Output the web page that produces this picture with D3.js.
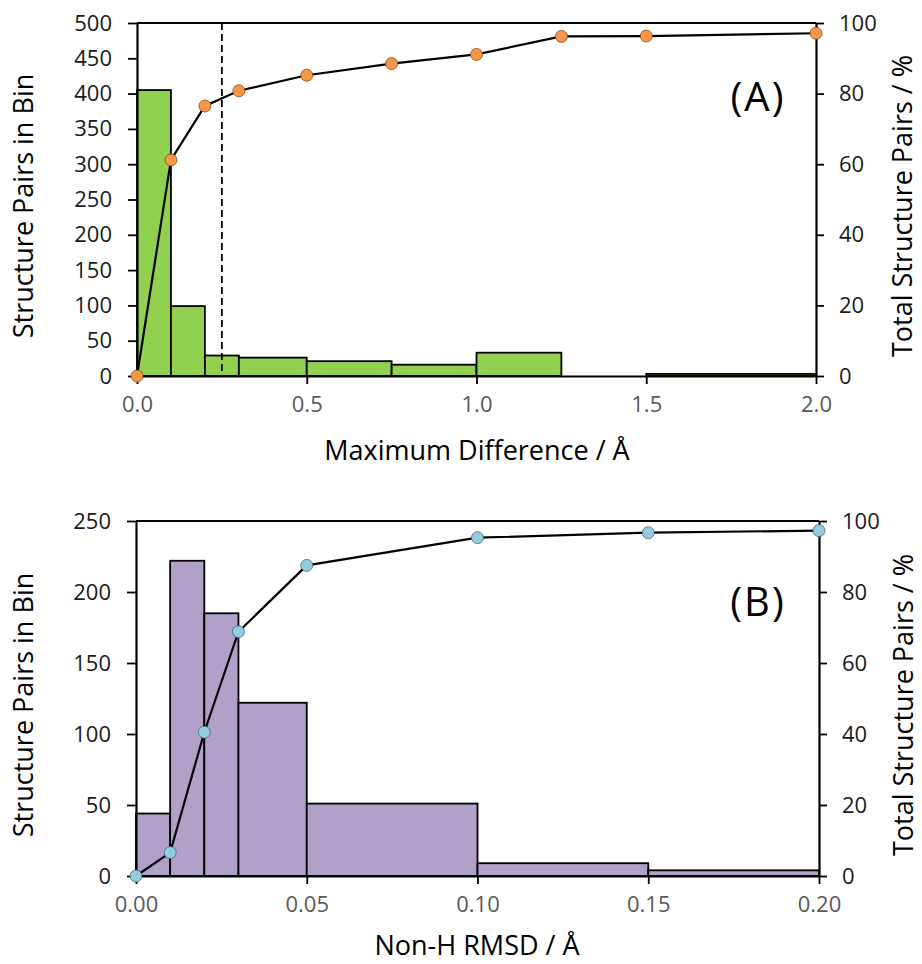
<!DOCTYPE html>
<html>
<head>
<meta charset="utf-8">
<script src="https://cdn.jsdelivr.net/npm/d3@7"></script>
<style>
  html, body { margin: 0; padding: 0; background: #fff; }
  svg text { font-family: "Open Sans", "Noto Sans", sans-serif; }
  .axis .domain { stroke: #000; stroke-width: 2.2; }
  .axis .tick line { stroke: #000; stroke-width: 1.8; }
  .axis.y text { font-size: 22px; fill: #1a1a1a; }
  .axis.x text { font-size: 22px; fill: #595959; }
  .title { font-size: 27px; fill: #000; }
</style>
</head>
<body>
<div id="chart"></div>
<script>
// Panel A: maximum difference histogram
const edgesA = [0, 0.1, 0.2, 0.3, 0.5, 0.75, 1.0, 1.25, 1.5, 2.0];
const countsA = [405, 99, 29, 26, 21, 16, 33, 0, 3];
const cumA = [0, 61.2, 76.5, 80.8, 85.2, 88.5, 91.1, 96.2, 96.3, 97.1];
const xTicksA = [0, 0.5, 1.0, 1.5, 2.0];
const yTicksA = [0, 50, 100, 150, 200, 250, 300, 350, 400, 450, 500];
const cutoffA = 0.25;

// Panel B: non-H RMSD histogram
const edgesB = [0, 0.01, 0.02, 0.03, 0.05, 0.10, 0.15, 0.20];
const countsB = [44, 222, 185, 122, 51, 9, 4];
const cumB = [0, 6.6, 40.5, 68.8, 87.5, 95.3, 96.7, 97.3];
const xTicksB = [0, 0.05, 0.10, 0.15, 0.20];
const yTicksB = [0, 50, 100, 150, 200, 250];

const pctTicks = [0, 20, 40, 60, 80, 100];

const svg = d3.select('#chart').append('svg')
  .attr('width', 922)
  .attr('height', 964);

function drawPanel(p) {
  const x = d3.scaleLinear().domain([0, p.xMax]).range([p.left, p.right]);
  const y = d3.scaleLinear().domain([0, p.yMax]).range([p.bottom, p.top]);
  const y2 = d3.scaleLinear().domain([0, 100]).range([p.bottom, p.top]);
  const g = svg.append('g');

  const bins = p.counts.map((c, i) => ({ x0: p.edges[i], x1: p.edges[i + 1], c: c }))
    .filter(d => d.c > 0);

  g.selectAll('rect.bar').data(bins).enter().append('rect')
    .attr('class', 'bar')
    .attr('x', d => x(d.x0))
    .attr('y', d => y(d.c))
    .attr('width', d => x(d.x1) - x(d.x0))
    .attr('height', d => y(0) - y(d.c))
    .attr('fill', p.barColor)
    .attr('stroke', '#000')
    .attr('stroke-width', 1.8);

  if (p.cutoff != null) {
    g.append('line')
      .attr('x1', x(p.cutoff)).attr('x2', x(p.cutoff))
      .attr('y1', p.top).attr('y2', p.bottom - 4)
      .attr('stroke', '#000')
      .attr('stroke-width', 1.8)
      .attr('stroke-dasharray', '7,4');
  }

  // frame top
  g.append('line')
    .attr('x1', p.left).attr('x2', p.right)
    .attr('y1', p.top).attr('y2', p.top)
    .attr('stroke', '#000').attr('stroke-width', 2.2);

  g.append('g')
    .attr('class', 'axis y')
    .attr('transform', `translate(${p.left},0)`)
    .call(d3.axisLeft(y).tickValues(p.yTicks).tickSize(9).tickSizeOuter(0).tickPadding(16));

  g.append('g')
    .attr('class', 'axis y')
    .attr('transform', `translate(${p.right},0)`)
    .call(d3.axisRight(y2).tickValues(pctTicks).tickSize(8).tickSizeOuter(0).tickPadding(15));

  g.append('g')
    .attr('class', 'axis x')
    .attr('transform', `translate(0,${p.bottom})`)
    .call(d3.axisBottom(x).tickValues(p.xTicks).tickSize(8).tickSizeOuter(0).tickPadding(12)
      .tickFormat(d3.format(p.fmt)));

  const pts = p.edges.map((e, i) => ({ x: e, v: p.cum[i] }));

  g.append('path')
    .datum(pts)
    .attr('fill', 'none')
    .attr('stroke', '#000')
    .attr('stroke-width', 2.2)
    .attr('d', d3.line().x(d => x(d.x)).y(d => y2(d.v)));

  g.selectAll('circle.pt').data(pts).enter().append('circle')
    .attr('class', 'pt')
    .attr('cx', d => x(d.x))
    .attr('cy', d => y2(d.v))
    .attr('r', 6)
    .attr('fill', p.dotColor)
    .attr('stroke', p.dotStroke)
    .attr('stroke-width', 0.8);

  g.append('text')
    .attr('x', p.tagX).attr('y', p.tagY)
    .attr('text-anchor', 'middle')
    .style('font-size', '40px')
    .style('letter-spacing', '2px')
    .text(p.tag);

  g.append('text')
    .attr('class', 'title')
    .attr('text-anchor', 'middle')
    .attr('transform', `translate(${p.yTitleX},${p.titleY}) rotate(-90)`)
    .text('Structure Pairs in Bin');

  g.append('text')
    .attr('class', 'title')
    .attr('text-anchor', 'middle')
    .attr('transform', `translate(${p.y2TitleX},${p.titleY}) rotate(-90)`)
    .text('Total Structure Pairs / %');

  g.append('text')
    .attr('class', 'title')
    .attr('text-anchor', 'middle')
    .attr('x', 477).attr('y', p.xTitleY)
    .text(p.xTitle);
}

drawPanel({
  edges: edgesA, counts: countsA, cum: cumA, xTicks: xTicksA, yTicks: yTicksA,
  xMax: 2.0, yMax: 500, fmt: '.1f', cutoff: cutoffA,
  left: 137, right: 816, top: 23, bottom: 376,
  barColor: '#92d050', dotColor: '#f79646', dotStroke: '#8a4a14',
  tag: '(A)', tagX: 758, tagY: 111,
  yTitleX: 33, y2TitleX: 912, titleY: 206,
  xTitle: 'Maximum Difference / Å', xTitleY: 460
});

drawPanel({
  edges: edgesB, counts: countsB, cum: cumB, xTicks: xTicksB, yTicks: yTicksB,
  xMax: 0.20, yMax: 250, fmt: '.2f', cutoff: null,
  left: 136, right: 819, top: 521, bottom: 876,
  barColor: '#b1a0c7', dotColor: '#92cddc', dotStroke: '#3b6a78',
  tag: '(B)', tagX: 758, tagY: 616,
  yTitleX: 33, y2TitleX: 913, titleY: 705,
  xTitle: 'Non-H RMSD / Å', xTitleY: 955
});
</script>
</body>
</html>
